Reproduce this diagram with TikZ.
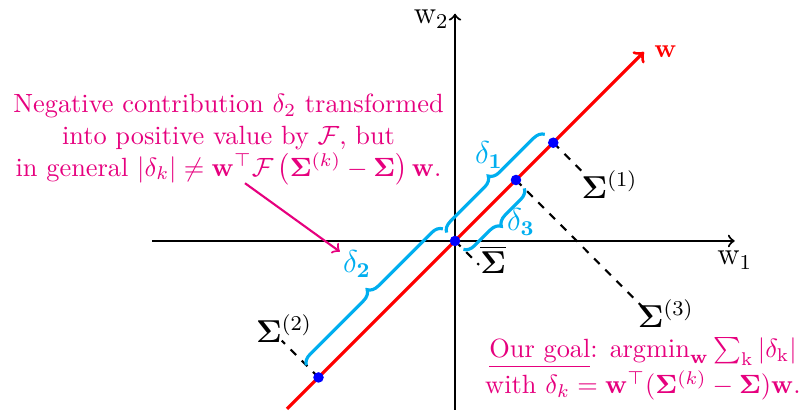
\documentclass[tikz,border=0pt]{standalone}
\usepackage{amsmath,amssymb}
\usetikzlibrary{decorations.pathreplacing,calc}
\definecolor{notepink}{RGB}{230,0,126}
\definecolor{bracecyan}{RGB}{0,174,239}

\begin{document}
\begin{tikzpicture}[
  dbrace/.style={decorate, decoration={brace, amplitude=4pt, raise=#1}, very thick, bracecyan},
  dbrace/.default=4.5pt,
  dlabel/.style={bracecyan, font=\large, inner sep=1pt},
  proj/.style={dashed, thick},
  sig/.style={font=\large, inner sep=1pt},
  note/.style={notepink, align=center}]
\useasboundingbox (-6.067,-2.32) rectangle (4.64,3.213);
% axes
\draw[->, thick] (-4.04,0) -- (3.73,0) node[below, font=\large] (w1) {$\mathrm{w}_1$};
\draw[->, thick] (0,-2.25) -- (0,3.03) node[left, font=\large, inner sep=2pt, yshift=-2pt] (w2) {$\mathrm{w}_2$};
% direction w
\draw[->, very thick, red] (-2.24,-2.24) -- (2.52,2.52) node[right] (w) {$\mathbf{w}$};
% projected points
\coordinate (O) at (0,0);
\coordinate (P1) at (1.31,1.31);
\coordinate (P3) at (0.813,0.813);
\coordinate (P2) at (-1.82,-1.82);
\coordinate (S1) at (1.75,0.87);
\coordinate (S3) at (2.50,-0.88);
\coordinate (Sb) at (0.32,-0.32);
\coordinate (S2) at (-2.31,-1.33);
\draw[proj] (P1) -- (S1);
\draw[proj] (P3) -- (S3);
\draw[proj] (O) -- (Sb);
\draw[proj] (P2) -- (S2);
\node[sig] (L1) at (2.06,0.75) {$\mathbf{\Sigma}^{(1)}$};
\node[sig] (L3) at (2.81,-0.97) {$\mathbf{\Sigma}^{(3)}$};
\node[sig] (Lb) at (0.51,-0.25) {$\overline{\mathbf{\Sigma}}$};
\node[sig] (L2) at (-2.28,-1.17) {$\mathbf{\Sigma}^{(2)}$};
% braces
\draw[dbrace] (O) -- (P1);
\draw[dbrace=6.5pt] (P2) -- (O);
\draw[dbrace] (P3) -- (O);
\node[dlabel] (d1) at (0.453,1.147) {$\delta_{\mathbf{1}}$};
\node[dlabel] (d2) at (-1.307,-0.307) {$\delta_{\mathbf{2}}$};
\node[dlabel] (d3) at (0.88,0.253) {$\delta_{\mathbf{3}}$};
\foreach \p in {O,P1,P2,P3} \fill[blue] (\p) circle (2pt);
% notes
\node[note] (nt) at (-3.02,1.35) {Negative contribution $\delta_2$ transformed\\
  into positive value by $\mathcal{F}$, but\\
  in general $|\delta_k| \neq \mathbf{w}^\top\mathcal{F}\left(\mathbf{\Sigma}^{(k)}-\mathbf{\Sigma}\right)\mathbf{w}$.};
\coordinate (a0) at (-2.8,0.77);
\draw[->, thick, notepink] (a0) -- (d2);
\node[note] (goal) at (2.507,-1.707) {\underline{Our goal}: $\mathrm{argmin}_{\mathbf{w}}\sum_{\mathrm{k}}|\delta_{\mathrm{k}}|$\\
  with $\delta_k=\mathbf{w}^\top(\mathbf{\Sigma}^{(k)}-\mathbf{\Sigma})\mathbf{w}$.};
\end{tikzpicture}
\end{document}
